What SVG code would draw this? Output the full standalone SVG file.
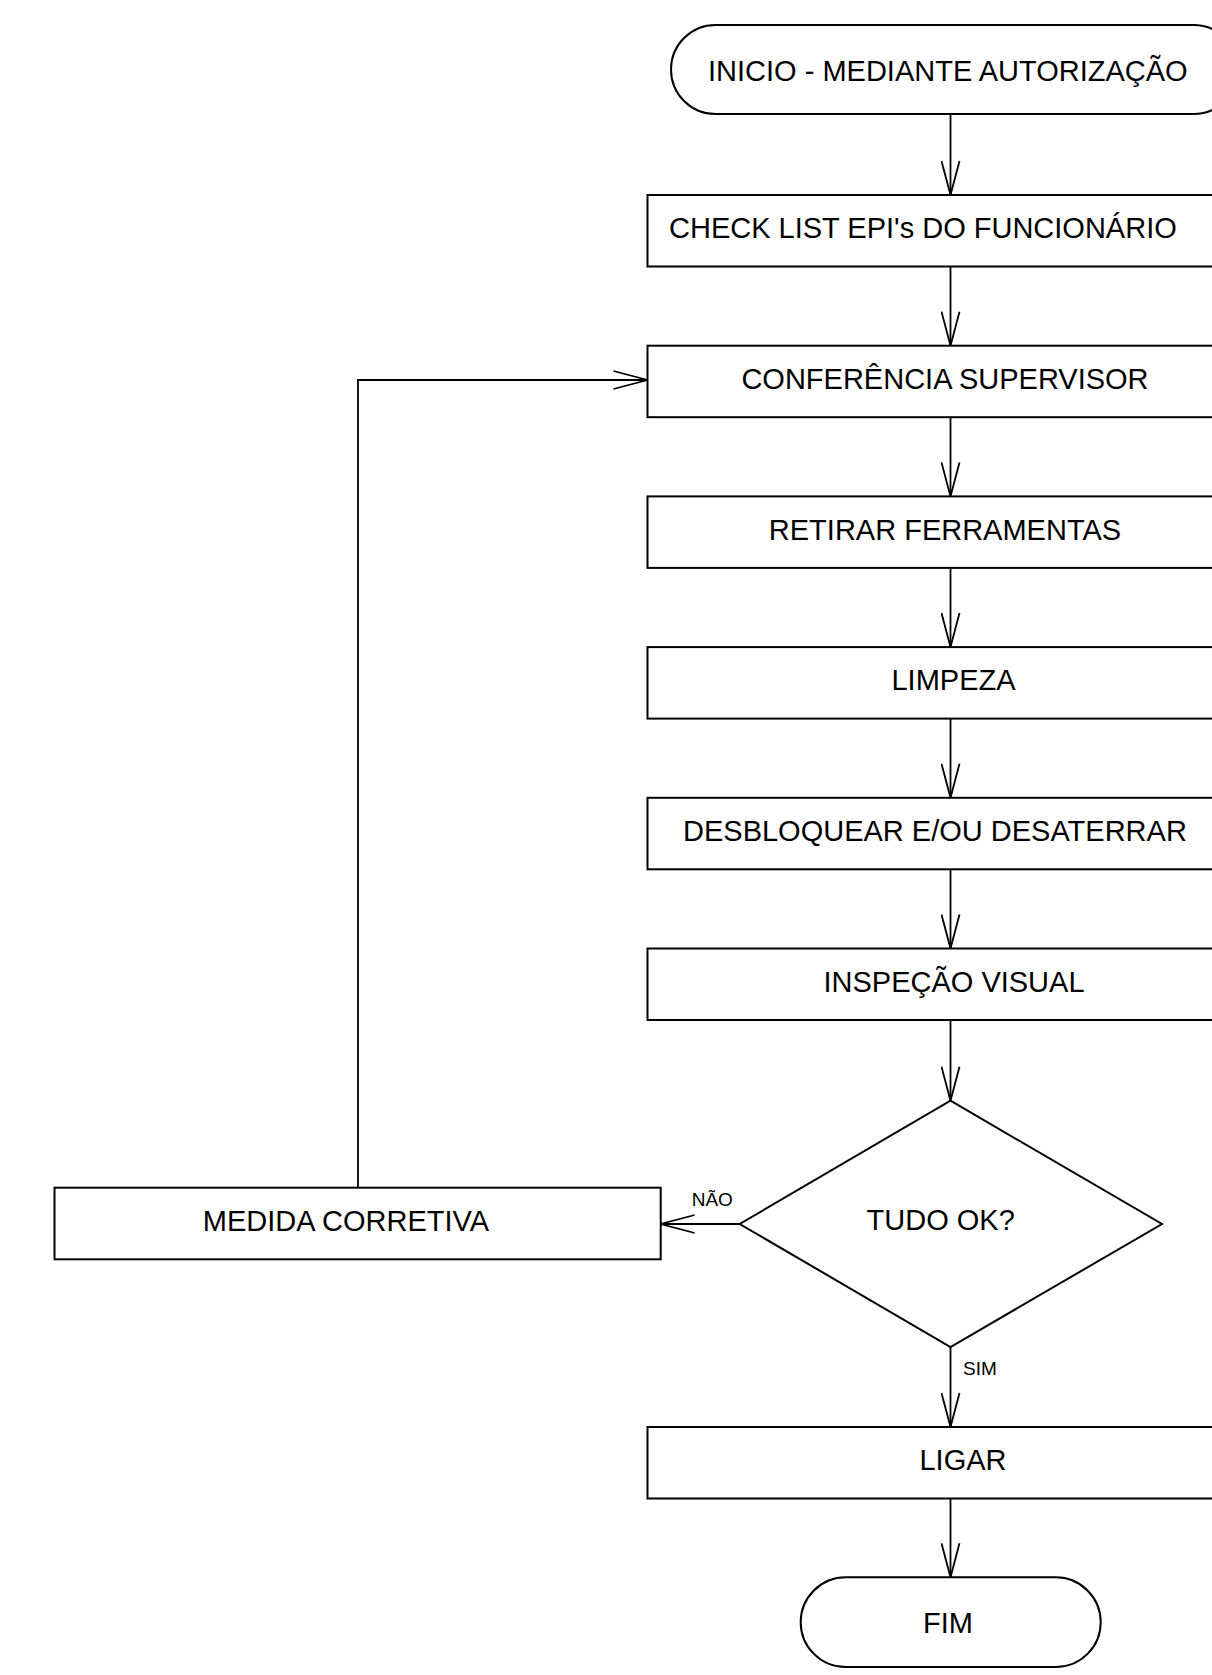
<svg xmlns="http://www.w3.org/2000/svg" width="1212" height="1675" viewBox="0 0 1212 1675">
<defs>
<style>
.n{fill:#fff;stroke:#000;stroke-width:2}
.t{font-family:"Liberation Sans",Arial,sans-serif;font-size:29px;fill:#000}
.s{font-family:"Liberation Sans",Arial,sans-serif;font-size:19px;fill:#000}
.c{fill:none;stroke:#000;stroke-width:1.8}
</style>
<marker id="ah" markerUnits="userSpaceOnUse" viewBox="0 0 36 20" refX="35" refY="10" markerWidth="36" markerHeight="20" orient="auto">
<path d="M1,1 L35,10 L1,19" fill="none" stroke="#000" stroke-width="1.8"/>
</marker>
</defs>
<rect width="1212" height="1675" fill="#fff"/>
<g id="connectors">
<line class="c" x1="950.5" y1="114" x2="950.5" y2="195" marker-end="url(#ah)"/>
<line class="c" x1="950.5" y1="266.5" x2="950.5" y2="345.7" marker-end="url(#ah)"/>
<line class="c" x1="950.5" y1="417.2" x2="950.5" y2="496.4" marker-end="url(#ah)"/>
<line class="c" x1="950.5" y1="567.9" x2="950.5" y2="647.1" marker-end="url(#ah)"/>
<line class="c" x1="950.5" y1="718.6" x2="950.5" y2="797.8" marker-end="url(#ah)"/>
<line class="c" x1="950.5" y1="869.3" x2="950.5" y2="948.5" marker-end="url(#ah)"/>
<line class="c" x1="950.5" y1="1020" x2="950.5" y2="1100.7" marker-end="url(#ah)"/>
<line class="c" x1="739.7" y1="1224" x2="660.7" y2="1224" marker-end="url(#ah)"/>
<line class="c" x1="950.5" y1="1347" x2="950.5" y2="1427" marker-end="url(#ah)"/>
<line class="c" x1="950.5" y1="1498.5" x2="950.5" y2="1577.3" marker-end="url(#ah)"/>
<polyline class="c" points="358,1187.7 358,380 647.5,380" marker-end="url(#ah)"/>
<text class="s" x="691.7" y="1206">NÃO</text>
<text class="s" x="963" y="1375">SIM</text>
</g>
<g id="inicio">
<rect class="n" x="671" y="25" width="567" height="89" rx="44.5" ry="44.5"/>
<text class="t" x="708" y="81">INICIO - MEDIANTE AUTORIZAÇÃO</text>
</g>
<g id="checklist">
<rect class="n" x="647.5" y="195" width="606" height="71.5"/>
<text class="t" x="669" y="238.3">CHECK LIST EPI's DO FUNCIONÁRIO</text>
</g>
<g id="conferencia">
<rect class="n" x="647.5" y="345.7" width="606" height="71.5"/>
<text class="t" x="945" y="389" text-anchor="middle">CONFERÊNCIA SUPERVISOR</text>
</g>
<g id="retirar">
<rect class="n" x="647.5" y="496.4" width="606" height="71.5"/>
<text class="t" x="945" y="539.7" text-anchor="middle">RETIRAR FERRAMENTAS</text>
</g>
<g id="limpeza">
<rect class="n" x="647.5" y="647.1" width="606" height="71.5"/>
<text class="t" x="953.5" y="690.4" text-anchor="middle">LIMPEZA</text>
</g>
<g id="desbloquear">
<rect class="n" x="647.5" y="797.8" width="606" height="71.5"/>
<text class="t" x="683" y="841.4">DESBLOQUEAR E/OU DESATERRAR</text>
</g>
<g id="inspecao">
<rect class="n" x="647.5" y="948.5" width="606" height="71.5"/>
<text class="t" x="954" y="991.8" text-anchor="middle">INSPEÇÃO VISUAL</text>
</g>
<g id="tudook">
<polygon class="n" points="950.5,1100.7 1162,1224 950.5,1347 739.7,1224"/>
<text class="t" x="866.6" y="1230">TUDO OK?</text>
</g>
<g id="medida">
<rect class="n" x="54.5" y="1187.7" width="606.2" height="71.6"/>
<text class="t" x="346" y="1231" text-anchor="middle">MEDIDA CORRETIVA</text>
</g>
<g id="ligar">
<rect class="n" x="647.5" y="1427" width="606" height="71.5"/>
<text class="t" x="963" y="1470.3" text-anchor="middle">LIGAR</text>
</g>
<g id="fim">
<rect class="n" x="800.7" y="1577.3" width="300" height="89.7" rx="45" ry="45"/>
<text class="t" x="923" y="1632.7">FIM</text>
</g>
</svg>
